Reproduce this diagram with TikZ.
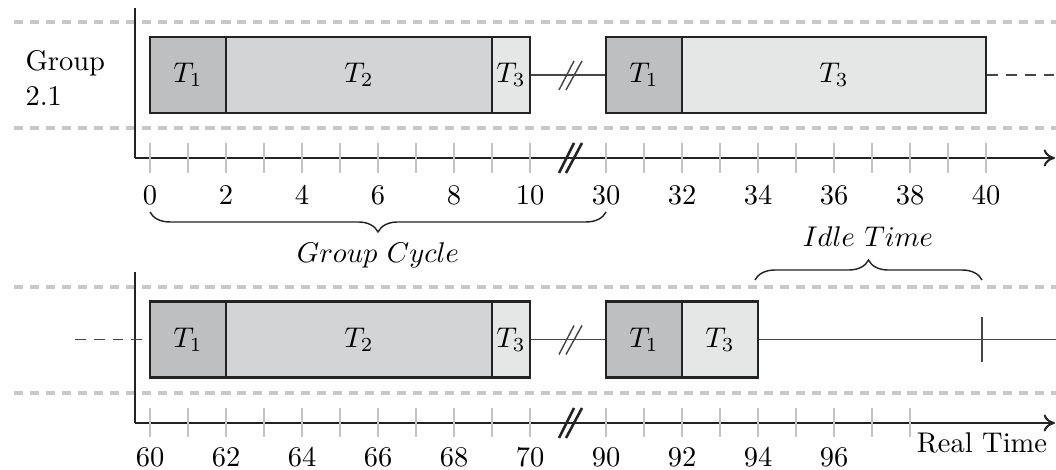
\documentclass[tikz,border=0pt]{standalone}
\usetikzlibrary{decorations.pathreplacing,arrows.meta}
\definecolor{tone}{RGB}{190,191,192}
\definecolor{ttwo}{RGB}{211,212,214}
\definecolor{tthree}{RGB}{229,230,230}
\definecolor{edge}{RGB}{35,35,35}
\definecolor{guide}{RGB}{200,200,200}
\definecolor{tickc}{RGB}{195,195,195}
\definecolor{linkc}{RGB}{70,70,70}
\begin{document}
\begin{tikzpicture}[x=0.351pt,y=-0.351pt,
  task/.style={draw=edge,line width=0.8pt,inner sep=0pt,minimum height={76*0.351pt}},
  guideline/.style={draw=guide,line width=1.1pt,dash pattern=on 3.2pt off 2.4pt},
  axisline/.style={draw=edge,line width=0.7pt},
  tickline/.style={draw=tickc,line width=0.4pt},
  link/.style={draw=linkc,line width=0.5pt},
  tail/.style={draw=linkc,line width=0.5pt,dash pattern=on 3.8pt off 2.8pt},
  brk/.style={draw=edge,line width=0.9pt},
  brkthin/.style={draw=linkc,line width=0.5pt},
  lbl/.style={inner sep=0pt},
  bracestyle/.style={draw=edge,line width=0.5pt,decorate},
  note/.style={inner sep=0pt}]
\useasboundingbox (0,0) rectangle (1056,470);

% guide lines
\draw[guideline] (14,22) -- (1056,22);
\draw[guideline] (14,128) -- (1056,128);
\draw[guideline] (14,287) -- (1056,287);
\draw[guideline] (14,393) -- (1056,393);

% top axes
\draw[axisline] (135,8) -- (135,158);
\draw[axisline,-{To[length=4pt,width=6pt]}] (135,158) -- (1055,158);
\foreach \k in {0,...,10} {
  \draw[tickline] ({150+38*\k},143) -- ({150+38*\k},173);
  \draw[tickline] ({606+38*\k},143) -- ({606+38*\k},173);
}
\foreach \v in {0,2,...,10} {\node[lbl] (tl\v) at ({150+38*\v},195) {\v};}
\foreach \v in {30,32,...,40} {\node[lbl] (tl\v) at ({606+38*(\v-30)},195) {\v};}
\draw[brk] (559,173) -- (574,143);
\draw[brk] (566,173) -- (582,143);

% bottom axes
\draw[axisline] (135,272) -- (135,423);
\draw[axisline,-{To[length=4pt,width=6pt]}] (135,423) -- (1055,423);
\foreach \k in {0,...,10} {\draw[tickline] ({150+38*\k},408) -- ({150+38*\k},437);}
\foreach \k in {0,...,8} {\draw[tickline] ({606+38*\k},408) -- ({606+38*\k},437);}
\foreach \v in {60,62,...,70} {\node[lbl] (bl\v) at ({150+38*(\v-60)},457) {\v};}
\foreach \v in {90,92,94,96} {\node[lbl] (bl\v) at ({606+38*(\v-90)},457) {\v};}
\draw[brk] (559,438) -- (574,408);
\draw[brk] (566,438) -- (582,408);
\node[lbl] (realtime) at (982,443) {Real Time};

% group label
\node[lbl,anchor=west,align=left] (grp) at (25,78) {Group\\2.1};

% top row tasks
\node[task,fill=tone,minimum width={76*0.351pt}] (a1) at (188,75) {$T_1$};
\node[task,fill=ttwo,minimum width={266*0.351pt}] (a2) at (359,75) {$T_2$};
\node[task,fill=tthree,minimum width={38*0.351pt}] (a3) at (511,75) {$T_3$};
\node[task,fill=tone,minimum width={76*0.351pt}] (a4) at (644,75) {$T_1$};
\node[task,fill=tthree,minimum width={304*0.351pt}] (a5) at (834,75) {$T_3$};
\coordinate (aend) at (1056,75);
\draw[link] (a3.east) -- (a4.west);
\draw[brkthin] (559,90) -- (574,61);
\draw[brkthin] (566,90) -- (582,61);
\draw[tail] (a5.east) -- (aend);

% bottom row tasks
\node[task,fill=tone,minimum width={76*0.351pt}] (b1) at (188,339.5) {$T_1$};
\node[task,fill=ttwo,minimum width={266*0.351pt}] (b2) at (359,339.5) {$T_2$};
\node[task,fill=tthree,minimum width={38*0.351pt}] (b3) at (511,339.5) {$T_3$};
\node[task,fill=tone,minimum width={76*0.351pt}] (b4) at (644,339.5) {$T_1$};
\node[task,fill=tthree,minimum width={76*0.351pt}] (b5) at (720,339.5) {$T_3$};
\coordinate (bstart) at (75,339.5);
\coordinate (bend) at (1056,339.5);
\coordinate (marktop) at (982,317);
\coordinate (markbot) at (982,362);
\draw[tail] (bstart) -- (b1.west);
\draw[link] (b3.east) -- (b4.west);
\draw[brkthin] (559,354.5) -- (574,325.5);
\draw[brkthin] (566,354.5) -- (582,325.5);
\draw[link] (b5.east) -- (bend);
\draw[link] (marktop) -- (markbot);

% braces
\draw[bracestyle,decoration={brace,mirror,amplitude=7pt}] (150,212) -- (606,212);
\node[note] (cycle) at (378,255) {$Group\ Cycle$};
\draw[bracestyle,decoration={brace,amplitude=7pt}] (755,280) -- (982,280);
\node[note] (idle) at (868,237) {$Idle\ Time$};
\end{tikzpicture}
\end{document}
